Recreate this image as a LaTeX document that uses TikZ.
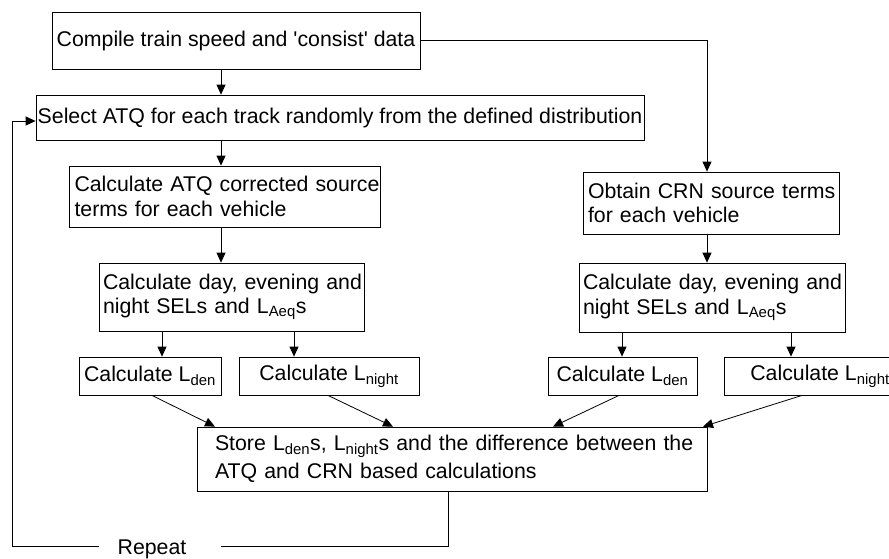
\documentclass[tikz,border=0pt]{standalone}
\usepackage{fontspec}
\setmainfont{Liberation Sans}
\usetikzlibrary{arrows.meta}
\begin{document}
\begin{tikzpicture}[x=1pt,y=-1pt,
  box/.style={draw, line width=0.8pt, inner sep=0pt, align=center},
  lbox/.style={draw, line width=0.8pt, inner ysep=0pt, align=left},
  arr/.style={line width=0.8pt, -{Triangle[length=10pt,width=9pt]}},
  link/.style={line width=0.8pt}]
\fontsize{21.3}{24.5}\selectfont
\clip (0,0) rectangle (889,558);
\fill[white] (0,0) rectangle (889,558);

% process boxes
\node[box, minimum width=368pt, minimum height=57pt] (comp) at (236,40.5)
  {Compile train speed and \textquotesingle consist\textquotesingle\ data};
\node[box, minimum width=608pt, minimum height=45pt] (sel) at (340,117.5)
  {Select ATQ for each track randomly from the defined distribution};
\node[lbox, text width=300pt, inner xsep=5.5pt, minimum height=61pt] (atq) at (224.5,196.5)
  {\mbox{Calculate ATQ corrected source}\\\mbox{terms for each vehicle}};
\node[lbox, text width=246pt, inner xsep=5pt, minimum height=62pt] (crn) at (711,203)
  {\mbox{Obtain CRN source terms}\\\mbox{for each vehicle}};
\node[lbox, text width=257pt, inner xsep=4pt, minimum height=68pt] (selL) at (231.5,297)
  {\mbox{Calculate day, evening and}\\\mbox{night SELs and L\textsubscript{Aeq}s}};
\node[lbox, text width=258pt, inner xsep=4pt, minimum height=69pt] (selR) at (712,297.5)
  {\mbox{Calculate day, evening and}\\\mbox{night SELs and L\textsubscript{Aeq}s}};
\node[box, minimum width=142pt, minimum height=38pt] (ldenL) at (150,376) {Calculate L\textsubscript{den}};
\node[box, minimum width=180pt, minimum height=38pt] (lnL) at (329,376) {Calculate L\textsubscript{night}};
\node[box, minimum width=149pt, minimum height=38pt] (ldenR) at (622.5,376) {Calculate L\textsubscript{den}};
\node[box, minimum width=192pt, minimum height=38pt] (lnR) at (820,376) {Calculate L\textsubscript{night}};
\node[lbox, text width=474pt, inner xsep=18pt, minimum height=64pt] (store) at (452,459)
  {\mbox{Store L\textsubscript{den}s, L\textsubscript{night}s and the difference between the}\\[4pt]\mbox{ATQ and CRN based calculations}};
\node[inner sep=0pt] (rep) at (152,549) {Repeat};

% connector columns
\coordinate (cL) at (221,0);
\coordinate (cR) at (707,0);
\coordinate (a1) at (162,0);
\coordinate (a2) at (294,0);
\coordinate (a3) at (622,0);
\coordinate (a4) at (791,0);
\coordinate (d1) at (152,0);
\coordinate (d2) at (328,0);
\coordinate (d3) at (619,0);
\coordinate (d4) at (802,0);
\coordinate (e1) at (215,0);
\coordinate (e2) at (393,0);
\coordinate (e3) at (553,0);
\coordinate (e4) at (703,0);
\coordinate (loopx) at (448,0);
\coordinate (repR) at (221,546);
\coordinate (repL) at (99,546);
\coordinate (corner) at (12,546);

% connectors
\draw[arr] (comp.south -| cL) -- (sel.north -| cL);
\draw[arr] (sel.south -| cL) -- (atq.north -| cL);
\draw[arr] (atq.south -| cL) -- (selL.north -| cL);
\draw[arr] (comp.east) -| (crn.north -| cR);
\draw[arr] (crn.south -| cR) -- (selR.north -| cR);
\draw[arr] (selL.south -| a1) -- (ldenL.north -| a1);
\draw[arr] (selL.south -| a2) -- (lnL.north -| a2);
\draw[arr] (selR.south -| a3) -- (ldenR.north -| a3);
\draw[arr] (selR.south -| a4) -- (lnR.north -| a4);
\draw[arr] (ldenL.south -| d1) -- (store.north -| e1);
\draw[arr] (lnL.south -| d2) -- (store.north -| e2);
\draw[arr] (ldenR.south -| d3) -- (store.north -| e3);
\draw[arr] (lnR.south -| d4) -- (store.north -| e4);

% repeat loop
\draw[link] (store.south -| loopx) |- (repR);
\draw[arr] (repL) -- (corner) |- ([yshift=-3.5pt]sel.west);
\end{tikzpicture}
\end{document}
